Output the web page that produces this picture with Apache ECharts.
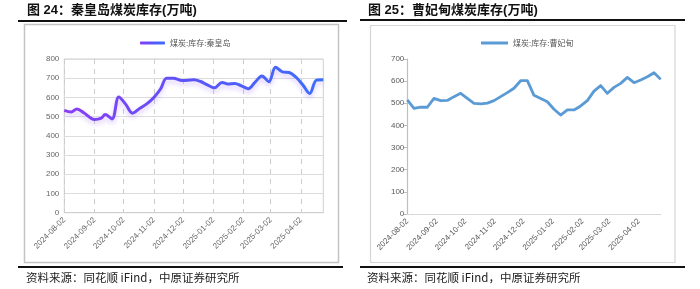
<!DOCTYPE html>
<html>
<head>
<meta charset="utf-8">
<script src="https://cdn.jsdelivr.net/npm/echarts@6/dist/echarts.min.js"></script>
<style>
  html, body { margin: 0; padding: 0; background: #fff; }
  #chart { width: 700px; height: 289px; }
</style>
</head>
<body>
<div id="chart"></div>
<script>
// Daily axis range shared by both panels
const axisStart = '2024-08-02';
const axisEnd = '2025-04-25';

// 秦皇岛煤炭库存 (万吨)
const qhdDates = [
  '2024-08-02', '2024-08-09', '2024-08-15', '2024-08-22', '2024-09-02', '2024-09-09',
  '2024-09-13', '2024-09-20', '2024-09-27', '2024-10-04', '2024-10-11', '2024-10-19',
  '2024-10-26', '2024-11-02', '2024-11-09', '2024-11-15', '2024-11-22', '2024-12-01',
  '2024-12-13', '2024-12-20', '2024-12-27', '2025-01-03', '2025-01-11', '2025-01-17',
  '2025-01-24', '2025-01-31', '2025-02-07', '2025-02-14', '2025-02-21', '2025-02-28',
  '2025-03-07', '2025-03-14', '2025-03-21', '2025-03-28', '2025-04-04', '2025-04-11',
  '2025-04-18', '2025-04-25'
];
const qhdValues = [
  533, 524, 540, 520, 485, 492,
  511, 488, 602, 565, 518, 545,
  568, 600, 645, 700, 700, 688,
  692, 683, 665, 650, 678, 670,
  673, 660, 645, 680, 712, 682,
  757, 733, 730, 705, 665, 620,
  690, 692
];

// 曹妃甸煤炭库存 (万吨), weekly
const cfdDates = [
  '2024-08-02', '2024-08-09', '2024-08-16', '2024-08-23', '2024-08-30',
  '2024-09-06', '2024-09-13', '2024-09-20', '2024-09-27',
  '2024-10-04', '2024-10-11', '2024-10-18', '2024-10-25',
  '2024-11-01', '2024-11-08', '2024-11-15', '2024-11-22', '2024-11-29',
  '2024-12-06', '2024-12-13', '2024-12-20', '2024-12-27',
  '2025-01-03', '2025-01-10', '2025-01-17', '2025-01-24', '2025-01-31',
  '2025-02-07', '2025-02-14', '2025-02-21', '2025-02-28',
  '2025-03-07', '2025-03-14', '2025-03-21', '2025-03-28',
  '2025-04-04', '2025-04-11', '2025-04-18', '2025-04-25'
];
const cfdValues = [
  515, 477, 483, 482, 522,
  512, 513, 530, 545,
  522, 500, 497, 501,
  512, 530, 548, 568, 602,
  602, 536, 522, 507,
  473, 447, 470, 470, 488,
  512, 555, 580, 545,
  572, 590, 617, 593,
  605, 620, 638, 608
];

const titleLeft = '图 24：秦皇岛煤炭库存(万吨)';
const titleRight = '图 25：曹妃甸煤炭库存(万吨)';
const sourceText = '资料来源：同花顺 iFind，中原证券研究所';
const nameLeft = '煤炭:库存:秦皇岛';
const nameRight = '煤炭:库存:曹妃甸';

function dayList(start, end) {
  const out = [];
  const d = new Date(start + 'T00:00:00Z');
  const e = new Date(end + 'T00:00:00Z');
  while (d <= e) {
    out.push(d.toISOString().slice(0, 10));
    d.setUTCDate(d.getUTCDate() + 1);
  }
  return out;
}
const days = dayList(axisStart, axisEnd);
const onSecond = (idx, val) => val.slice(8) === '02';

const FONT = "'Liberation Sans', 'Noto Sans CJK SC', sans-serif";
const CJK = "'Noto Sans CJK SC', 'Liberation Sans', sans-serif";

const purpleBlue = new echarts.graphic.LinearGradient(0, 0, 1, 0, [
  { offset: 0, color: '#8a3cf6' },
  { offset: 0.5, color: '#5a55f7' },
  { offset: 1, color: '#3a70fb' }
]);

const chart = echarts.init(document.getElementById('chart'), null, { renderer: 'canvas' });

chart.setOption({
  animation: false,
  backgroundColor: '#ffffff',
  title: [
    { text: titleLeft, left: 27, top: 4, padding: 0,
      textStyle: { fontFamily: FONT, fontSize: 13, fontWeight: 'bold', color: '#111' } },
    { text: titleRight, left: 368, top: 4, padding: 0,
      textStyle: { fontFamily: FONT, fontSize: 13, fontWeight: 'bold', color: '#111' } },
    { text: sourceText, left: 26, top: 271.5, padding: 0,
      textStyle: { fontFamily: CJK, fontSize: 11.5, fontWeight: 'normal', color: '#222' } },
    { text: sourceText, left: 367, top: 271.5, padding: 0,
      textStyle: { fontFamily: CJK, fontSize: 11.5, fontWeight: 'normal', color: '#222' } }
  ],
  graphic: [
    { type: 'line', shape: { x1: 18, y1: 21, x2: 347, y2: 21 }, style: { stroke: '#111', lineWidth: 2 } },
    { type: 'line', shape: { x1: 18, y1: 267, x2: 343, y2: 267 }, style: { stroke: '#111', lineWidth: 2 } },
    { type: 'line', shape: { x1: 360, y1: 20, x2: 685, y2: 20 }, style: { stroke: '#111', lineWidth: 2 } },
    { type: 'line', shape: { x1: 360, y1: 267, x2: 685, y2: 267 }, style: { stroke: '#111', lineWidth: 2 } },
    { type: 'rect', shape: { x: 24.5, y: 24.5, width: 314, height: 238 },
      style: { fill: 'none', stroke: '#c4c4c4', lineWidth: 1.5 } },
    { type: 'rect', shape: { x: 370.5, y: 25.5, width: 304.5, height: 237 },
      style: { fill: 'none', stroke: '#d6d6d6', lineWidth: 1.2 } }
  ],
  legend: [
    {
      left: 135, top: 34, itemWidth: 25, itemHeight: 3, itemGap: 10,
      textStyle: { fontFamily: CJK, fontSize: 8, color: '#555' },
      data: [{ name: nameLeft, icon: 'roundRect', itemStyle: { color: purpleBlue } }]
    },
    {
      left: 476, top: 34, itemWidth: 27, itemHeight: 3, itemGap: 10,
      textStyle: { fontFamily: CJK, fontSize: 8, color: '#595959' },
      data: [{ name: nameRight, icon: 'rect', itemStyle: { color: '#5b9bd5' } }]
    }
  ],
  grid: [
    { left: 64.3, right: 376.7, top: 59, bottom: 76.3, show: true,
      borderColor: '#cfcfcf', borderWidth: 1, outerBoundsMode: 'none' },
    { left: 407.3, right: 39.3, top: 59, bottom: 75, outerBoundsMode: 'none' }
  ],
  xAxis: [
    {
      type: 'category', gridIndex: 0, data: days, boundaryGap: false,
      axisLine: { show: true, lineStyle: { color: '#cfcfcf' } },
      axisTick: { show: false, interval: onSecond },
      axisLabel: { interval: onSecond, rotate: 45, fontFamily: FONT, fontSize: 8,
        color: '#666', margin: 6 },
      splitLine: { show: true, interval: onSecond,
        lineStyle: { color: '#cccccc', type: [5, 5], width: 1 } }
    },
    {
      type: 'category', gridIndex: 1, data: days, boundaryGap: false,
      axisLine: { show: true, lineStyle: { color: '#d9d9d9', width: 1.2 } },
      axisTick: { show: false, interval: onSecond },
      axisLabel: { interval: onSecond, rotate: 45, fontFamily: FONT, fontSize: 8,
        color: '#595959', margin: 6 },
      splitLine: { show: false }
    }
  ],
  yAxis: [
    {
      type: 'value', gridIndex: 0, min: 0, max: 800, interval: 100,
      axisLine: { show: false }, axisTick: { show: false },
      axisLabel: { fontFamily: FONT, fontSize: 8, color: '#666', margin: 5 },
      splitLine: { show: true, lineStyle: { color: '#dcdcdc', width: 1 } }
    },
    {
      type: 'value', gridIndex: 1, min: 0, max: 700, interval: 100,
      axisLine: { show: true, lineStyle: { color: '#bfbfbf', width: 1.2 } },
      axisTick: { show: true, inside: false, length: 4, lineStyle: { color: '#bfbfbf' } },
      axisLabel: { fontFamily: FONT, fontSize: 8, color: '#595959', margin: 3 },
      splitLine: { show: false }
    }
  ],
  series: [
    {
      name: nameLeft, type: 'line', xAxisIndex: 0, yAxisIndex: 0,
      data: qhdDates.map((d, i) => [d, qhdValues[i]]),
      smooth: 0.35, showSymbol: false, symbol: 'none',
      itemStyle: { color: purpleBlue },
      lineStyle: { width: 3, color: purpleBlue,
        shadowColor: 'rgba(150, 100, 255, 0.35)', shadowBlur: 5, shadowOffsetY: 3 }
    },
    {
      name: nameRight, type: 'line', xAxisIndex: 1, yAxisIndex: 1,
      data: cfdDates.map((d, i) => [d, cfdValues[i]]),
      smooth: false, showSymbol: false, symbol: 'none',
      itemStyle: { color: '#5b9bd5' },
      lineStyle: { width: 2.8, color: '#5b9bd5', join: 'round' }
    }
  ]
});
</script>
</body>
</html>
